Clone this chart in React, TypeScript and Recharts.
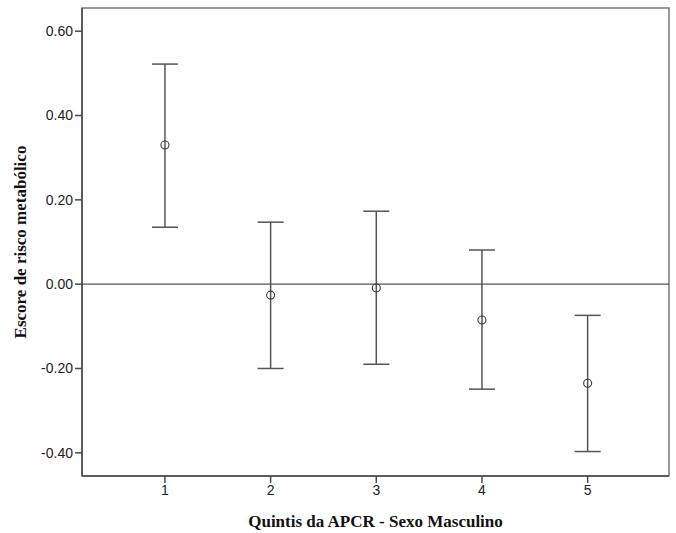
import React from 'react';
import { ScatterChart, Scatter, XAxis, YAxis, ErrorBar, ReferenceLine, ReferenceArea } from 'recharts';

const quintiles = [1, 2, 3, 4, 5];
const means = [0.330, -0.026, -0.009, -0.085, -0.235];
const lowers = [0.135, -0.200, -0.190, -0.249, -0.397];
const uppers = [0.522, 0.147, 0.173, 0.081, -0.074];
const yTicks = [-0.4, -0.2, 0, 0.2, 0.4, 0.6];
const xTicks = [1, 2, 3, 4, 5];
const yLabel = 'Escore de risco metabólico';
const xLabel = 'Quintis da APCR - Sexo Masculino';

const Y_MIN = -0.455;
const Y_MAX = 0.655;
const X_MIN = 0.215;
const X_MAX = 5.77;

const data = quintiles.map((q, i) => ({
  x: q,
  y: means[i],
  err: [means[i] - lowers[i], uppers[i] - means[i]],
}));

const AX = '#4a4a4a';

const Dot = (props: any) => {
  const { cx, cy } = props;
  return <circle cx={cx} cy={cy} r={4} fill="none" stroke="#3a3a3a" strokeWidth={1.1} />;
};

export default function App() {
  return (
    <div style={{ position: 'absolute', left: 0, top: 0, width: 676, height: 533, background: '#fff' }}>
      <ScatterChart width={676} height={533} margin={{ top: 8, right: 7, bottom: 0, left: 0 }}>
        <XAxis
          type="number"
          dataKey="x"
          domain={[X_MIN, X_MAX]}
          ticks={xTicks}
          allowDataOverflow
          height={57}
          axisLine={{ stroke: AX, strokeWidth: 1.5 }}
          tickLine={{ stroke: AX, strokeWidth: 1.5 }}
          tickSize={7}
          tick={{ fill: '#222', fontSize: 14, fontFamily: 'Liberation Sans, Arial, sans-serif' }}
          label={(p: any) => {
            const vb = p.viewBox;
            return (
              <text x={vb.x + vb.width / 2} y={527} textAnchor="middle" fontFamily="Liberation Serif, Times New Roman, serif" fontWeight="bold" fontSize={17} fill="#111">
                {xLabel}
              </text>
            );
          }}
        />
        <YAxis
          type="number"
          dataKey="y"
          domain={[Y_MIN, Y_MAX]}
          ticks={yTicks}
          allowDataOverflow
          width={82}
          axisLine={{ stroke: AX, strokeWidth: 1.5 }}
          tickLine={{ stroke: AX, strokeWidth: 1.5 }}
          tickSize={7}
          tickFormatter={(v: number) => v.toFixed(2)}
          tick={{ fill: '#222', fontSize: 14, fontFamily: 'Liberation Sans, Arial, sans-serif' }}
          label={(p: any) => {
            const vb = p.viewBox;
            const cy = vb.y + vb.height / 2;
            return (
              <text x={26} y={cy} transform={`rotate(-90, 26, ${cy})`} textAnchor="middle" fontFamily="Liberation Serif, Times New Roman, serif" fontWeight="bold" fontSize={17} fill="#111">
                {yLabel}
              </text>
            );
          }}
        />
        <ReferenceArea x1={X_MIN} x2={X_MAX} y1={Y_MIN} y2={Y_MAX} fill="none" stroke="#777" strokeWidth={1.5} />
        <ReferenceLine y={0} stroke="#555" strokeWidth={1.3} />
        <Scatter data={data} isAnimationActive={false} shape={<Dot />}>
          <ErrorBar dataKey="err" direction="y" width={13} stroke="#555" strokeWidth={1.5} />
        </Scatter>
      </ScatterChart>
    </div>
  );
}
